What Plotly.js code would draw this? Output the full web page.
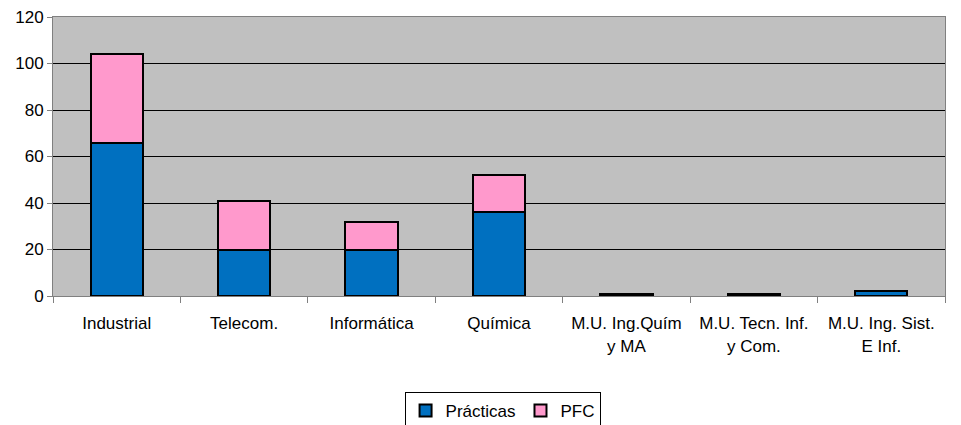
<!DOCTYPE html>
<html>
<head>
<meta charset="utf-8">
<script src="https://cdn.plot.ly/plotly-3.0.1.min.js"></script>
<style>html,body{margin:0;padding:0;background:#fff;}#chart{width:961px;height:425px;}</style>
</head>
<body>
<div id="chart"></div>
<script>
const categories = ["Industrial", "Telecom.", "Informática", "Química", "M.U. Ing.Quím<br>y MA", "M.U. Tecn. Inf.<br>y Com.", "M.U. Ing. Sist.<br>E Inf."];
const practicas = [66, 20, 20, 36, 1, 1, 2];
const pfc = [38, 21, 12, 16, 0, 0, 0];
const yTicks = [0, 20, 40, 60, 80, 100, 120];

const font = {family: "Liberation Sans, Arial, sans-serif", size: 17, color: "#000"};
const traces = [
  {type: "bar", name: "Prácticas", x: categories, y: practicas,
   marker: {color: "#0070C0", line: {color: "#000", width: 2}}},
  {type: "bar", name: "PFC", x: categories, y: pfc,
   marker: {color: "#FF99CC", line: {color: "#000", width: 2}}}
];
const layout = {
  width: 961, height: 425,
  margin: {l: 53, r: 16, t: 17, b: 129, autoexpand: false},
  barmode: "stack", bargap: 0.59,
  paper_bgcolor: "#fff", plot_bgcolor: "#C0C0C0",
  font: font,
  showlegend: true,
  legend: {orientation: "h", traceorder: "normal", x: 0.504, xanchor: "center", y: -0.344, yanchor: "top",
           bordercolor: "#000", borderwidth: 1, font: font, itemwidth: 30, tracegroupgap: 0},
  xaxis: {type: "category", tickson: "boundaries", ticks: "outside", ticklen: 6, tickcolor: "#808080",
          showline: true, linecolor: "#808080", linewidth: 1, mirror: true, showgrid: false,
          ticklabelstandoff: 12, tickfont: font, fixedrange: true},
  yaxis: {range: [0, 120], tickvals: yTicks, ticktext: yTicks.map(String), ticks: "outside", ticklen: 5, tickcolor: "#808080",
          showline: true, linecolor: "#808080", linewidth: 1, mirror: true,
          showgrid: true, gridcolor: "#000", gridwidth: 1, zeroline: false,
          tickfont: font, fixedrange: true}
};
Plotly.newPlot("chart", traces, layout, {displayModeBar: false, staticPlot: true});
</script>
</body>
</html>
